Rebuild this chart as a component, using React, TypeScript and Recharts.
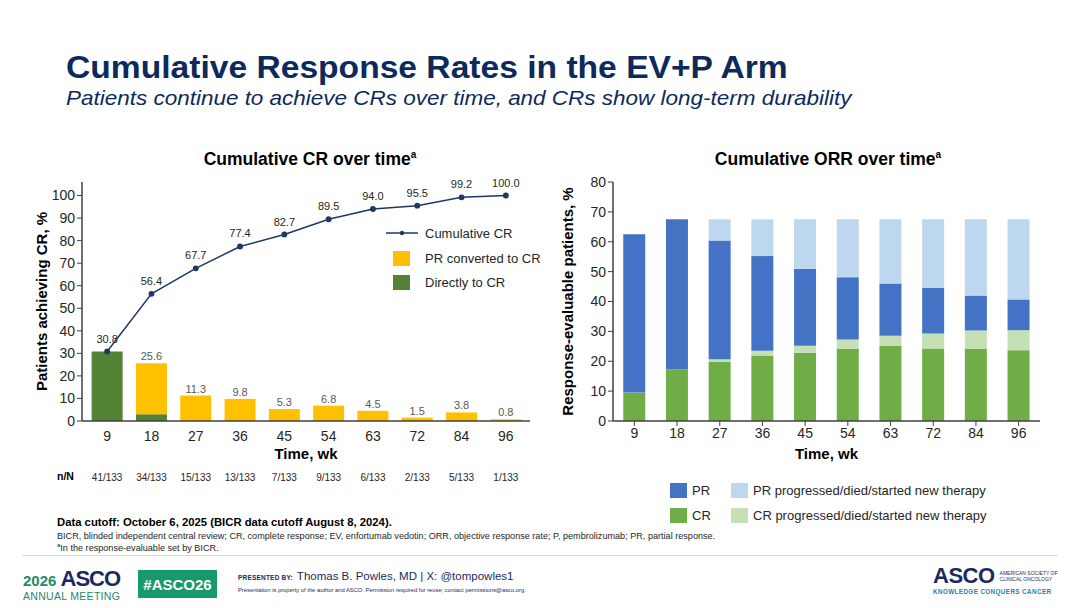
import React from "react";
import {
  ComposedChart,
  BarChart,
  Bar,
  Line,
  XAxis,
  YAxis,
  LabelList,
} from "recharts";

// ---- left panel: cumulative CR ----
const weeks = ["9", "18", "27", "36", "45", "54", "63", "72", "84", "96"];
const directlyToCR = [30.8, 3.0, 0, 0, 0, 0, 0, 0, 0, 0];
const prConvertedToCR = [0, 22.6, 11.3, 9.8, 5.3, 6.8, 4.5, 1.5, 3.8, 0.8];
const barTotals = [null, 25.6, 11.3, 9.8, 5.3, 6.8, 4.5, 1.5, 3.8, 0.8];
const cumulativeCR = [30.8, 56.4, 67.7, 77.4, 82.7, 89.5, 94.0, 95.5, 99.2, 100.0];
const nOverN = ["41/133", "34/133", "15/133", "13/133", "7/133", "9/133", "6/133", "2/133", "5/133", "1/133"];
const crTicks = [0, 10, 20, 30, 40, 50, 60, 70, 80, 90, 100];

// ---- right panel: cumulative ORR ----
const crRate = [9.5, 17.3, 19.8, 21.9, 22.8, 24.1, 25.1, 24.3, 24.1, 23.7];
const crProgressed = [0, 0, 0.9, 1.6, 2.4, 3.2, 3.4, 5.0, 6.2, 6.7];
const prRate = [53.0, 50.2, 39.7, 31.7, 25.8, 20.8, 17.5, 15.3, 11.7, 10.3];
const prProgressed = [0, 0, 7.1, 12.3, 16.5, 19.4, 21.5, 22.9, 25.5, 26.8];
const orrTicks = [0, 10, 20, 30, 40, 50, 60, 70, 80];

const crData = weeks.map((wk, i) => ({
  wk,
  direct: directlyToCR[i],
  converted: prConvertedToCR[i],
  total: barTotals[i],
  cum: cumulativeCR[i],
  nn: nOverN[i],
}));

const orrData = weeks.map((wk, i) => ({
  wk,
  cr: crRate[i],
  crProg: crProgressed[i],
  pr: prRate[i],
  prProg: prProgressed[i],
}));

const FONT = "'Liberation Sans', Arial, sans-serif";
const NARROW = "'Liberation Sans Narrow', 'Arial Narrow', 'Liberation Sans', sans-serif";
const NAVY = "#0c2a5b";
const AXIS = "#404040";

const DARK_GREEN = "#548235";
const YELLOW = "#ffc000";
const LINE_NAVY = "#1f3864";

const PR_BLUE = "#4472c4";
const PR_LIGHT = "#bdd7ee";
const CR_GREEN = "#70ad47";
const CR_LIGHT = "#c5e0b4";

const crLegend = [
  { label: "PR converted to CR", color: YELLOW },
  { label: "Directly to CR", color: DARK_GREEN },
];

const orrLegend = [
  [
    { label: "PR", color: PR_BLUE },
    { label: "PR progressed/died/started new therapy", color: PR_LIGHT },
  ],
  [
    { label: "CR", color: CR_GREEN },
    { label: "CR progressed/died/started new therapy", color: CR_LIGHT },
  ],
];

function WeekTick(props: any) {
  const { x, y, payload, index } = props;
  return (
    <g>
      <text x={x} y={y + 12} textAnchor="middle" fontSize={14} fill="#262626" fontFamily={FONT}>
        {payload.value}
      </text>
      <text x={x} y={y + 52} textAnchor="middle" fontSize={10} fill="#262626" fontFamily={NARROW}>
        {nOverN[index]}
      </text>
    </g>
  );
}

function CRChart() {
  return (
    <ComposedChart
      width={560}
      height={500}
      data={crData}
      margin={{ top: 182, right: 30, bottom: 19, left: 42 }}
      barCategoryGap="15%"
    >
      <XAxis
        dataKey="wk"
        height={60}
        tickLine={false}
        axisLine={{ stroke: AXIS, strokeWidth: 1.5 }}
        tick={<WeekTick />}
        interval={0}
        padding={{ left: 3, right: 2 }}
        label={{
          value: "Time, wk",
          position: "insideTop",
          offset: 27,
          style: { fontFamily: FONT, fontSize: 15, fontWeight: 700, fill: "#000" },
        }}
      />
      <YAxis
        domain={[0, 106]}
        ticks={crTicks}
        width={40}
        tickSize={5}
        tickLine={{ stroke: AXIS }}
        axisLine={{ stroke: AXIS, strokeWidth: 1.5 }}
        tick={{ fontSize: 14, fill: "#262626", fontFamily: FONT }}
        label={{
          value: "Patients achieving CR, %",
          angle: -90,
          position: "insideLeft",
          offset: 0,
          style: { textAnchor: "middle", fontFamily: FONT, fontSize: 15, fontWeight: 700, fill: "#000" },
        }}
      />
      <Bar dataKey="direct" stackId="cr" fill={DARK_GREEN} isAnimationActive={false} />
      <Bar dataKey="converted" stackId="cr" fill={YELLOW} isAnimationActive={false}>
        <LabelList
          dataKey="total"
          position="top"
          offset={3}
          style={{ fontSize: 11, fill: "#595959", fontFamily: FONT }}
        />
      </Bar>
      <Line
        dataKey="cum"
        stroke={LINE_NAVY}
        strokeWidth={1.5}
        dot={{ r: 2.2, fill: LINE_NAVY, stroke: LINE_NAVY }}
        isAnimationActive={false}
      >
        <LabelList
          dataKey="cum"
          position="top"
          offset={9}
          formatter={(v: any) => Number(v).toFixed(1)}
          style={{ fontSize: 11, fill: "#262626", fontFamily: FONT }}
        />
      </Line>
    </ComposedChart>
  );
}

function ORRChart() {
  return (
    <BarChart
      width={540}
      height={470}
      data={orrData}
      margin={{ top: 182, right: 40, bottom: 4, left: 28 }}
      barCategoryGap="24%"
    >
      <XAxis
        dataKey="wk"
        height={45}
        tickSize={5}
        tickLine={{ stroke: AXIS }}
        axisLine={{ stroke: AXIS, strokeWidth: 1.5 }}
        tick={{ fontSize: 14, fill: "#262626", fontFamily: FONT }}
        interval={0}
        label={{
          value: "Time, wk",
          position: "insideTop",
          offset: 27,
          style: { fontFamily: FONT, fontSize: 15, fontWeight: 700, fill: "#000" },
        }}
      />
      <YAxis
        domain={[0, 80]}
        ticks={orrTicks}
        width={45}
        tickSize={5}
        tickLine={{ stroke: AXIS }}
        axisLine={{ stroke: AXIS, strokeWidth: 1.5 }}
        tick={{ fontSize: 14, fill: "#262626", fontFamily: FONT }}
        label={{
          value: "Response-evaluable patients, %",
          angle: -90,
          position: "insideLeft",
          offset: 0,
          style: { textAnchor: "middle", fontFamily: FONT, fontSize: 15, fontWeight: 700, fill: "#000" },
        }}
      />
      <Bar dataKey="cr" stackId="orr" fill={CR_GREEN} isAnimationActive={false} />
      <Bar dataKey="crProg" stackId="orr" fill={CR_LIGHT} isAnimationActive={false} />
      <Bar dataKey="pr" stackId="orr" fill={PR_BLUE} isAnimationActive={false} />
      <Bar dataKey="prProg" stackId="orr" fill={PR_LIGHT} isAnimationActive={false} />
    </BarChart>
  );
}

const abs = (left: number, top: number, extra: React.CSSProperties = {}): React.CSSProperties => ({
  position: "absolute",
  left,
  top,
  ...extra,
});

export default function App() {
  return (
    <div
      style={{
        position: "absolute",
        left: 0,
        top: 0,
        width: 1080,
        height: 608,
        background: "#fff",
        overflow: "hidden",
        fontFamily: FONT,
      }}
    >
      {/* header */}
      <div
        style={abs(66, 49, {
          fontSize: 32,
          fontWeight: 700,
          color: NAVY,
          whiteSpace: "nowrap",
          transform: "scaleX(1.05)",
          transformOrigin: "left top",
        })}
      >
        Cumulative Response Rates in the EV+P Arm
      </div>
      <div
        style={abs(66, 86, {
          fontSize: 21,
          fontStyle: "italic",
          color: NAVY,
          whiteSpace: "nowrap",
          transform: "scaleX(1.07)",
          transformOrigin: "left top",
        })}
      >
        Patients continue to achieve CRs over time, and CRs show long-term durability
      </div>

      {/* panel titles */}
      <div style={abs(110, 149, { width: 400, textAlign: "center", fontSize: 17.5, fontWeight: 700, color: "#000" })}>
        Cumulative CR over time<sup style={{ fontSize: 10 }}>a</sup>
      </div>
      <div style={abs(628, 149, { width: 400, textAlign: "center", fontSize: 17.5, fontWeight: 700, color: "#000" })}>
        Cumulative ORR over time<sup style={{ fontSize: 10 }}>a</sup>
      </div>

      {/* charts */}
      <div style={abs(0, 0)}>
        <CRChart />
      </div>
      <div style={abs(540, 0)}>
        <ORRChart />
      </div>

      {/* n/N row label */}
      <div style={abs(57, 470, { fontSize: 10.5, fontWeight: 700, fontFamily: NARROW, color: "#000" })}>n/N</div>

      {/* left legend */}
      <div style={abs(385, 224, { fontSize: 13, color: "#262626" })}>
        <div style={{ display: "flex", alignItems: "center", height: 18 }}>
          <svg width={34} height={10} style={{ marginRight: 6 }}>
            <line x1={1} y1={5} x2={33} y2={5} stroke={LINE_NAVY} strokeWidth={1.5} />
            <circle cx={17} cy={5} r={2.2} fill={LINE_NAVY} />
          </svg>
          Cumulative CR
        </div>
        {crLegend.map((d) => (
          <div key={d.label} style={{ display: "flex", alignItems: "center", height: 16, marginTop: 8 }}>
            <span style={{ display: "inline-block", width: 17, height: 15, background: d.color, marginLeft: 8, marginRight: 15 }} />
            {d.label}
          </div>
        ))}
      </div>

      {/* right legend */}
      <div style={abs(670, 482, { fontSize: 13, color: "#262626" })}>
        {orrLegend.map((row, r) => (
          <div key={r} style={{ display: "flex", alignItems: "center", height: 16, marginBottom: 9 }}>
            {row.map((d, c) => (
              <div key={d.label} style={{ display: "flex", alignItems: "center", width: c === 0 ? 61 : 300 }}>
                <span style={{ display: "inline-block", width: 17, height: 15, background: d.color, marginRight: 5 }} />
                {d.label}
              </div>
            ))}
          </div>
        ))}
      </div>

      {/* footnotes */}
      <div style={abs(57, 516, { fontSize: 11.3, fontWeight: 700, fontFamily: NARROW, color: "#000", whiteSpace: "nowrap" })}>
        Data cutoff: October 6, 2025 (BICR data cutoff August 8, 2024).
      </div>
      <div style={abs(57, 531, { fontSize: 9.1, fontFamily: NARROW, color: "#262626", whiteSpace: "nowrap" })}>
        BICR, blinded independent central review; CR, complete response; EV, enfortumab vedotin; ORR, objective response rate; P, pembrolizumab; PR, partial response.
      </div>
      <div style={abs(57, 542, { fontSize: 9.1, fontFamily: NARROW, color: "#262626", whiteSpace: "nowrap" })}>
        <sup style={{ fontSize: 6 }}>a</sup>In the response-evaluable set by BICR.
      </div>
      <div style={abs(22, 555, { width: 1036, height: 1, background: "#d9d9d9" })} />

      {/* footer logos */}
      <div style={abs(23, 568, { whiteSpace: "nowrap", lineHeight: 1 })}>
        <span style={{ fontSize: 15, color: "#1f8a68", fontWeight: 700, fontFamily: NARROW }}>2026 </span>
        <span style={{ fontSize: 22, color: "#1b2a5e", fontWeight: 700, fontFamily: FONT, letterSpacing: -1 }}>ASCO</span>
        <div style={{ fontSize: 10.5, color: "#1f8a68", letterSpacing: 0.3, marginTop: 1, fontFamily: NARROW }}>ANNUAL MEETING</div>
      </div>
      <div
        style={abs(138, 570, {
          width: 79,
          height: 28,
          background: "#16996b",
          color: "#fff",
          fontWeight: 700,
          fontSize: 15,
          display: "flex",
          alignItems: "center",
          justifyContent: "center",
          fontFamily: NARROW,
        })}
      >
        #ASCO26
      </div>
      <div style={abs(238, 570, { whiteSpace: "nowrap", color: "#1b2a5e", display: "flex", alignItems: "baseline" })}>
        <span style={{ fontSize: 6.5, fontWeight: 700, letterSpacing: 0.2, marginRight: 4 }}>PRESENTED BY:</span>
        <span style={{ fontSize: 11.5 }}>Thomas B. Powles, MD | X: @tompowles1</span>
      </div>
      <div style={abs(238, 587, { whiteSpace: "nowrap", color: "#1b2a5e", fontSize: 5.8 })}>
        Presentation is property of the author and ASCO. Permission required for reuse; contact permissions@asco.org.
      </div>
      <div style={abs(933, 565, { whiteSpace: "nowrap", lineHeight: 1 })}>
        <div style={{ display: "flex", alignItems: "center" }}>
          <span style={{ fontSize: 22, fontWeight: 700, color: "#1b2a5e", letterSpacing: -0.5 }}>ASCO</span>
          <span style={{ fontSize: 5, color: "#1b2a5e", marginLeft: 5, lineHeight: 1.3 }}>
            AMERICAN SOCIETY OF
            <br />
            CLINICAL ONCOLOGY
          </span>
        </div>
        <div style={{ fontSize: 6.3, fontWeight: 700, color: "#2a7fa5", letterSpacing: 0.4, marginTop: 2 }}>
          KNOWLEDGE CONQUERS CANCER
        </div>
      </div>
    </div>
  );
}
